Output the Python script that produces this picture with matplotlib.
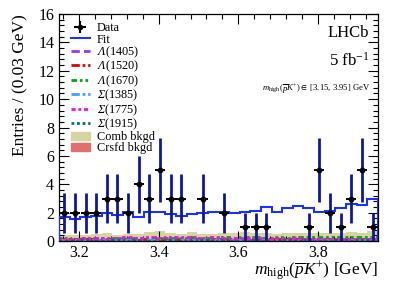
import numpy as np
import matplotlib
matplotlib.use("Agg")
import matplotlib.pyplot as plt
from matplotlib.patches import Patch
from matplotlib.lines import Line2D

plt.rcParams["font.family"] = ["Liberation Serif", "DejaVu Serif"]
# custom mathtext: "sf" slot used for italic capital Greek (Λ, Σ)
plt.rcParams["mathtext.fontset"] = "custom"
plt.rcParams["mathtext.rm"] = "Liberation Serif"
plt.rcParams["mathtext.it"] = "Liberation Serif:italic"
plt.rcParams["mathtext.sf"] = "Liberation Serif:italic"
plt.rcParams["mathtext.fallback"] = "stix"

# binning: 30 bins in [3.15, 3.95] GeV
x_lo, x_hi, n_bins = 3.15, 3.95, 30
edges = np.linspace(x_lo, x_hi, n_bins + 1)
centers = 0.5 * (edges[:-1] + edges[1:])
half_w = 0.5 * (edges[1] - edges[0])

data = np.array([2, 2, 2, 2, 3, 3, 2, 4, 3, 5, 3, 3, 0, 3, 0,
                 2, 0, 1, 1, 1, 0, 0, 0, 1, 5, 2, 1, 3, 5, 1])
fit = np.array([1.67, 1.55, 1.72, 1.76, 1.95, 1.83, 2.07, 1.72, 2.02, 2.02,
                1.90, 1.79, 1.88, 1.95, 2.02, 2.07, 1.95, 2.02, 2.14, 2.37,
                2.07, 2.30, 2.47, 2.30, 2.07, 2.14, 2.35, 2.59, 2.54, 2.94])
comb = np.array([0.45, 0.40, 0.45, 0.50, 0.55, 0.45, 0.50, 0.50, 0.62, 0.70,
                 0.55, 0.50, 0.62, 0.50, 0.50, 0.55, 0.60, 0.65, 0.60, 0.60,
                 0.50, 0.55, 0.60, 0.55, 0.55, 0.60, 0.60, 0.65, 0.55, 0.70])
crsfd = np.array([0.12, 0.10, 0.12, 0.14, 0.12, 0.10, 0.12, 0.14, 0.15, 0.12,
                  0.12, 0.10, 0.12, 0.14, 0.12, 0.12, 0.14, 0.15, 0.12, 0.14,
                  0.12, 0.14, 0.15, 0.12, 0.14, 0.15, 0.14, 0.16, 0.15, 0.14])
lam1405 = np.array([0.10, 0.09, 0.10, 0.11, 0.10, 0.09, 0.10, 0.11, 0.10, 0.09,
                    0.10, 0.09, 0.10, 0.11, 0.10, 0.10, 0.11, 0.10, 0.09, 0.10,
                    0.10, 0.11, 0.10, 0.09, 0.10, 0.11, 0.10, 0.10, 0.11, 0.10])
lam1520 = np.array([0.15, 0.14, 0.16, 0.15, 0.14, 0.15, 0.16, 0.15, 0.14, 0.15,
                    0.16, 0.15, 0.14, 0.15, 0.16, 0.15, 0.14, 0.15, 0.16, 0.15,
                    0.14, 0.15, 0.16, 0.18, 0.15, 0.14, 0.16, 0.15, 0.17, 0.16])
lam1670 = np.array([0.20, 0.18, 0.22, 0.20, 0.24, 0.20, 0.22, 0.20, 0.25, 0.22,
                    0.22, 0.20, 0.26, 0.22, 0.24, 0.28, 0.22, 0.26, 0.30, 0.24,
                    0.26, 0.24, 0.30, 0.26, 0.28, 0.30, 0.26, 0.30, 0.28, 0.32])
sig1385 = np.array([0.05, 0.05, 0.06, 0.05, 0.05, 0.06, 0.05, 0.05, 0.06, 0.05,
                    0.05, 0.06, 0.05, 0.05, 0.06, 0.05, 0.05, 0.06, 0.05, 0.05,
                    0.06, 0.05, 0.05, 0.06, 0.05, 0.05, 0.06, 0.05, 0.05, 0.06])
sig1775 = np.array([0.18, 0.16, 0.20, 0.22, 0.18, 0.24, 0.26, 0.22, 0.28, 0.24,
                    0.30, 0.26, 0.28, 0.24, 0.26, 0.22, 0.24, 0.20, 0.22, 0.18,
                    0.20, 0.18, 0.20, 0.16, 0.18, 0.16, 0.18, 0.16, 0.18, 0.16])
sig1915 = np.array([0.04, 0.04, 0.05, 0.04, 0.04, 0.05, 0.04, 0.05, 0.04, 0.04,
                    0.05, 0.04, 0.04, 0.05, 0.04, 0.05, 0.04, 0.04, 0.05, 0.04,
                    0.04, 0.05, 0.04, 0.05, 0.04, 0.04, 0.05, 0.04, 0.05, 0.04])

components = [
    (lam1405, r"$\mathsf{\Lambda}$(1405)", "#9b30ff", (0, (3, 1.5))),
    (lam1520, r"$\mathsf{\Lambda}$(1520)", "#e00000", (0, (3, 1, 1, 1))),
    (lam1670, r"$\mathsf{\Lambda}$(1670)", "#10a010", (0, (2, 1, 1, 1, 1, 1))),
    (sig1385, r"$\mathsf{\Sigma}$(1385)", "#40a0ff", (0, (3, 1, 1, 1, 1, 1))),
    (sig1775, r"$\mathsf{\Sigma}$(1775)", "#ee10ee", (0, (1.5, 1, 1, 1))),
    (sig1915, r"$\mathsf{\Sigma}$(1915)", "#007070", (0, (1, 1))),
]

fig = plt.figure(figsize=(3.99, 2.86), dpi=100)
ax = fig.add_axes([0.148, 0.157, 0.799, 0.794])

comb_col = "#d8d4a0"
crsfd_col = "#e07070"
ax.stairs(comb, edges, fill=True, color=comb_col, zorder=1)
ax.stairs(crsfd, edges, fill=True, color=crsfd_col, zorder=1.5)
for vals, lab, col, ls in components:
    ax.stairs(vals, edges, color=col, lw=2.0, linestyle=ls, zorder=2)

fit_col = "#1a30ff"
ax.stairs(fit, edges, color=fit_col, lw=1.5, baseline=0, zorder=3)

mask = data > 0
err = np.sqrt(data[mask])
ax.errorbar(centers[mask], data[mask], yerr=err, fmt="none",
            ecolor="#101898", elinewidth=2.0, capsize=0, zorder=4)
ax.errorbar(centers[mask], data[mask], xerr=half_w * 0.95, fmt="o",
            color="black", ms=3.2, elinewidth=1.4, capsize=0, zorder=5)

ax.set_xlim(x_lo, x_hi)
ax.set_ylim(0, 16)
ax.set_xticks([3.2, 3.4, 3.6, 3.8])
ax.set_xticks(np.arange(3.16, 3.95, 0.04), minor=True)
ax.set_yticks(np.arange(0, 17, 2))
ax.set_yticks(np.arange(0, 16.01, 0.4), minor=True)
ax.tick_params(which="both", direction="in", top=True, right=True,
               labelsize=11.5, width=0.8)
ax.tick_params(which="major", length=7)
ax.tick_params(which="minor", length=3.5)
ax.tick_params(axis="x", pad=3)
for s in ax.spines.values():
    s.set_linewidth(0.9)

ax.set_ylabel("Entries / (0.03 GeV)", fontsize=12.5, loc="top", labelpad=7)
ax.set_xlabel(r"$m_{\rm high}(\overline{p}K^{+})$ [GeV]", fontsize=12.5,
              loc="right", labelpad=-1)

ax.text(0.972, 0.915, "LHCb", transform=ax.transAxes, ha="right",
        va="center", fontsize=12)
ax.text(0.972, 0.793, r"5 fb$^{\mathregular{-1}}$", transform=ax.transAxes,
        ha="right", va="center", fontsize=12)
ax.text(0.975, 0.67, r"$m_{\rm high}(\overline{p}K^{+}) \in$ [3.15, 3.95] GeV",
        transform=ax.transAxes, ha="right", va="center", fontsize=6.2)

handles = [
    ax.errorbar([], [], xerr=[], yerr=[], fmt="o", color="black", ms=3,
                capsize=0),
    Line2D([], [], color=fit_col, lw=1.5),
]
labels = ["Data", "Fit"]
for vals, lab, col, ls in components:
    handles.append(Line2D([], [], color=col, lw=2.0, linestyle=ls))
    labels.append(lab)
handles += [Patch(color=comb_col), Patch(color=crsfd_col)]
labels += ["Comb bkgd", "Crsfd bkgd"]
ax.legend(handles, labels, loc="upper left", bbox_to_anchor=(0.015, 0.995),
          frameon=False, fontsize=8.8, handlelength=1.5, handletextpad=0.6,
          labelspacing=-0.08, borderaxespad=0.2)

fig.savefig("out.png", dpi=100)
